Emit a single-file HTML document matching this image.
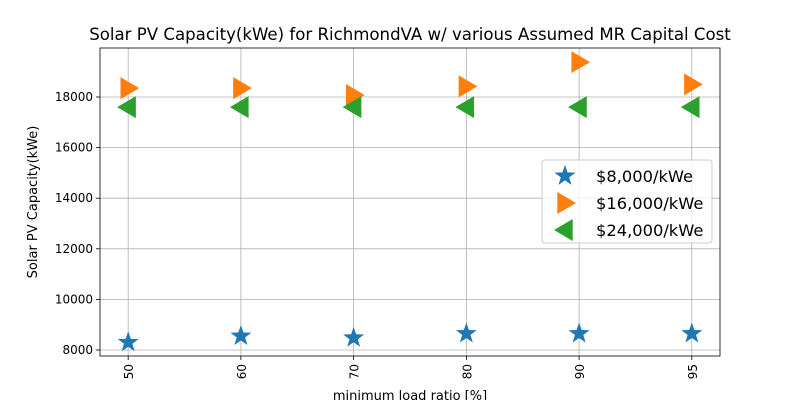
<!DOCTYPE html>
<html><head><meta charset="utf-8"><style>
body{margin:0;background:#fff;}
svg{display:block;font-family:"DejaVu Sans","Liberation Sans",sans-serif;}
</style></head><body>
<svg id="chart" width="800" height="400">
<rect width="800" height="400" fill="#fff"/>
<text x="410" y="40" text-anchor="middle" font-size="16.6">Solar PV Capacity(kWe) for RichmondVA w/ various Assumed MR Capital Cost</text>
<g id="grid"></g>
<g id="marks"></g>
<rect x="100" y="48" width="620" height="308" fill="none" stroke="#000" stroke-width="0.8"/>
<text transform="translate(37,202) rotate(-90)" text-anchor="middle" font-size="13">Solar PV Capacity(kWe)</text>
<text x="410" y="400" text-anchor="middle" font-size="13">minimum load ratio [%]</text>
<g>
<rect x="542" y="160" width="170" height="83" rx="3" fill="#fff" fill-opacity="0.8" stroke="#ccc"/>
<g id="legend"></g>
</g>
</svg>
<script>
const categories = ["50","60","70","80","90","95"];
const seriesNames = ["$8,000/kWe","$16,000/kWe","$24,000/kWe"];
const s8000 = [8300,8550,8480,8650,8650,8650];
const s16000 = [18350,18350,18080,18420,19380,18500];
const s24000 = [17600,17600,17600,17600,17600,17600];
const yTicks = [8000,10000,12000,14000,16000,18000];
const colors = ["#1f77b4","#ff7f0e","#2ca02c"];
const NS="http://www.w3.org/2000/svg";
const L=100,R=720,T=48,B=356,ymin=7763,ymax=19937;
function xs(i){return L+(i+0.25)/5.5*(R-L);}
function ys(v){return B-(v-ymin)/(ymax-ymin)*(B-T);}
function mk(tag,at,parent){const e=document.createElementNS(NS,tag);for(const k in at)e.setAttribute(k,at[k]);parent.appendChild(e);return e;}
const grid=document.getElementById('grid'),marks=document.getElementById('marks'),leg=document.getElementById('legend');
categories.forEach((c,i)=>{
 const x=xs(i);
 const g=mk('line',{x1:x,x2:x,y1:T,y2:B,stroke:'#b0b0b0','stroke-width':0.8},grid);
 
 
 const t=mk('line',{x1:x,x2:x,y1:B,y2:B+4,stroke:'#000','stroke-width':0.8},grid);
 
 
 const tx=mk('text',{transform:`translate(${x+5},${B+8}) rotate(-90)`,'text-anchor':'end','font-size':12},grid);
 tx.textContent=c;
 
 
});
yTicks.forEach(v=>{
 const y=ys(v);
 const g=mk('line',{x1:L,x2:R,y1:y,y2:y,stroke:'#b0b0b0','stroke-width':0.8},grid);
 
 
 const t=mk('line',{x1:L-4,x2:L,y1:y,y2:y,stroke:'#000','stroke-width':0.8},grid);
 
 
 const tx=mk('text',{x:L-7,y:y+4,'text-anchor':'end','font-size':12},grid);
 tx.textContent=v;
 
 
});
function star(cx,cy,r){let p=[];for(let k=0;k<10;k++){const a=-Math.PI/2+k*Math.PI/5;const rr=k%2?r*0.4:r;p.push((cx+rr*Math.cos(a)).toFixed(1)+','+(cy+rr*Math.sin(a)).toFixed(1));}return p.join(' ');}
function tri(cx,cy,r,dir){return dir>0?`${cx+r},${cy} ${cx-r*0.7},${cy-r} ${cx-r*0.7},${cy+r}`:`${cx-r},${cy} ${cx+r*0.7},${cy-r} ${cx+r*0.7},${cy+r}`;}
function shape(type,cx,cy,parent,col){
 if(type===0)return mk('polygon',{points:star(cx,cy,11),fill:col},parent);
 return mk('polygon',{points:tri(cx,cy,11,type===1?1:-1),fill:col},parent);
}
[s8000,s16000,s24000].forEach((arr,si)=>{
 arr.forEach((v,i)=>{
  const m=shape(si,xs(i),ys(v),marks,colors[si]);
  
  
 });
 const ly=176+si*27;
 const lm=shape(si,565,ly,leg,colors[si]);
 
 
 const lt=mk('text',{x:596,y:ly+6,'font-size':16.3},leg);
 lt.textContent=seriesNames[si];
 
 
});
</script>
</body></html>
